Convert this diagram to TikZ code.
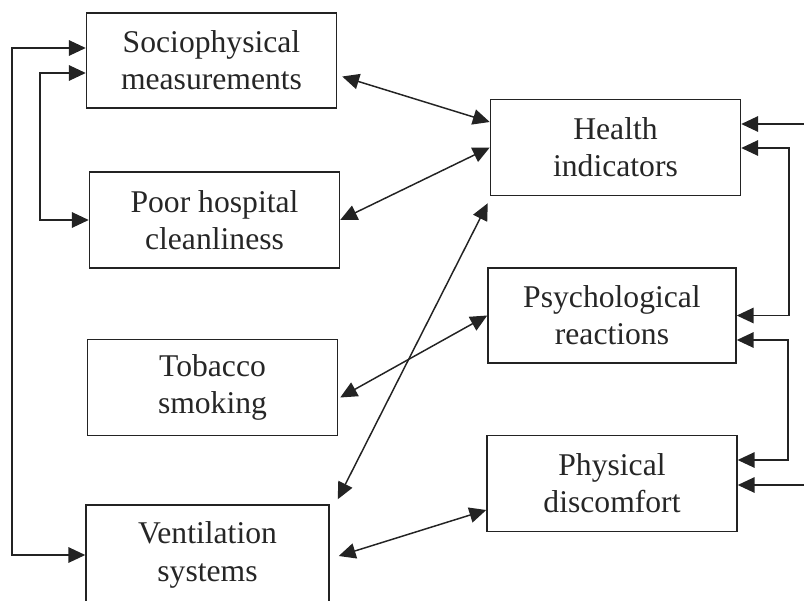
\documentclass[tikz,border=0pt]{standalone}
\usepackage{fontspec}
\setmainfont{Liberation Serif}
\usepackage{xcolor}
\usetikzlibrary{positioning, arrows.meta}
\definecolor{linegray}{RGB}{35, 35, 35}

\begin{document}
\begin{tikzpicture}[
    x=0.025cm, y=-0.025cm,
    block/.style={rectangle, draw=linegray, line width=1pt, minimum width=6.25cm, minimum height=2.4cm, align=center, font=\fontsize{22.5}{26.5}\selectfont, text=black!85},
    link/.style={{Triangle[length=12pt, width=11pt]}-{Triangle[length=12pt, width=11pt]}, line width=1.05pt, linegray},
    feed/.style={-{Triangle[length=12pt, width=11pt]}, line width=1.05pt, linegray}
]
    \useasboundingbox (0,0) rectangle (804,600);
    % boxes on the left
    \node[block, minimum height=2.375cm] (socio) at (211.5,60.5) {Sociophysical\\measurements};
    \node[block] (poor) at (214.5,220) {Poor hospital\\cleanliness};
    \node[block] (tobacco) at (212.5,387.5) {Tobacco\\smoking};
    \node[block, minimum width=6.075cm, minimum height=2.5cm] (vent) at (207.5,555) {Ventilation\\systems};
    % boxes on the right
    \node[block] (health) at (615.5,147.5) {Health\\indicators};
    \node[block, minimum width=6.2cm, minimum height=2.375cm] (psych) at (612,315.5) {Psychological\\reactions};
    \node[block] (physical) at (612,483.5) {Physical\\discomfort};

    % loops on the left
    \coordinate (outer) at (12,48);
    \coordinate (inner) at (40,73);
    \draw[link] (socio.west |- outer) -- (outer) |- (vent.west);
    \draw[link] (socio.west |- inner) -- (inner) |- (poor.west);

    % loops and inputs on the right
    \coordinate (in1) at (804,124);
    \coordinate (r1) at (789,148);
    \coordinate (r2) at (788,340);
    \coordinate (r3) at (788,460);
    \coordinate (in2) at (804,485);
    \draw[feed] (in1) -- (health.east |- in1);
    \draw[link] (health.east |- r1) -- (r1) |- (psych.east);
    \draw[link] (psych.east |- r2) -- (r2) -- (r3) -- (physical.east |- r3);
    \draw[feed] (in2) -- (physical.east |- in2);

    % links across the middle
    \draw[link] ([shift={(5,16)}]socio.east) -- ([shift={(0,-25.5)}]health.west);
    \draw[link] (poor.east) -- (health.west);
    \draw[link] ([shift={(8,-5)}]vent.north east) -- ([shift={(-2,7)}]health.south west);
    \draw[link] ([shift={(2,10)}]tobacco.east) -- (psych.west);
    \draw[link] ([shift={(9,1)}]vent.east) -- ([shift={(0,26.5)}]physical.west);
\end{tikzpicture}
\end{document}
